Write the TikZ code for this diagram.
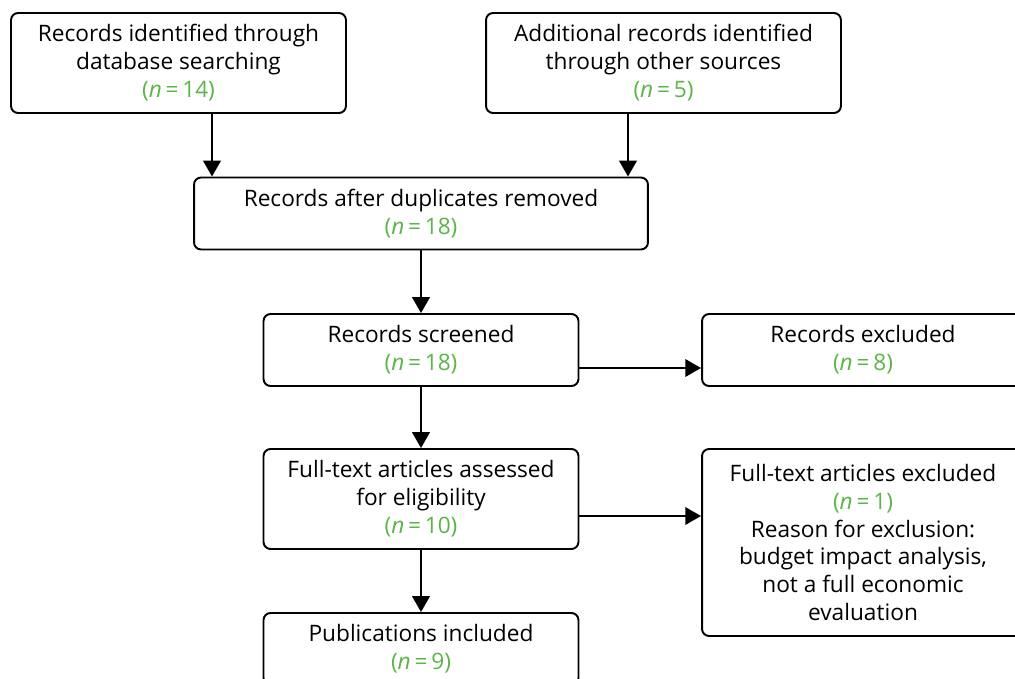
\documentclass[tikz,border=0pt]{standalone}
\usepackage{fontspec}
\setmainfont{Open Sans}
\usepackage{tikz}
\usetikzlibrary{positioning,arrows.meta,calc}
\definecolor{numVerde}{HTML}{5BB548}
\newcommand{\cuenta}[1]{{\color{numVerde}(\textit{n}\,=\,#1)}}

\begin{document}
\begin{tikzpicture}[x=0.02cm, y=-0.02cm,
        caja/.style={rectangle, rounded corners=4pt, draw=black, line width=1.1pt, align=center,
            minimum height=2cm, font=\fontsize{12.9}{15.9}\selectfont},
        cajaBaja/.style={caja, minimum height=1.44cm},
        flecha/.style={-{Triangle[length=9pt, width=10pt]}, line width=1.1pt}
    ]
        \useasboundingbox (0,0) rectangle (1015,679);
        \clip (0,0) rectangle (1015,679);

        \node[caja, minimum width=6.7cm] (busqueda) at (178.5, 63)
            {Records identified through\\database searching\\\cuenta{14}};
        \node[caja, minimum width=7.1cm] (otras) at (663.5, 63)
            {Additional records identified\\through other sources\\\cuenta{5}};
        \node[cajaBaja, minimum width=9.08cm] (duplicados) at (421, 213.5)
            {Records after duplicates removed\\\cuenta{18}};
        \node[cajaBaja, minimum width=6.3cm] (cribados) at (421, 350)
            {Records screened\\\cuenta{18}};
        \node[cajaBaja, minimum width=6.44cm] (excluidos) at (863, 350)
            {Records excluded\\\cuenta{8}};
        \node[caja, minimum width=6.3cm] (completos) at (421, 499)
            {Full-text articles assessed\\for eligibility\\\cuenta{10}};
        \node[caja, minimum width=6.44cm, minimum height=3.74cm] (razon) at (863, 542.5)
            {Full-text articles excluded\\\cuenta{1}\\Reason for exclusion:\\budget impact analysis,\\not a full economic\\evaluation};
        \node[cajaBaja, minimum width=6.3cm] (incluidos) at (421, 649)
            {Publications included\\\cuenta{9}};

        \draw[flecha] (busqueda.south -| 212,0) -- (duplicados.north -| 212,0);
        \draw[flecha] (otras.south -| 628,0) -- (duplicados.north -| 628,0);
        \draw[flecha] (duplicados) -- (cribados);
        \draw[flecha] (cribados.east |- 0,368) -- (excluidos.west |- 0,368);
        \draw[flecha] (cribados) -- (completos);
        \draw[flecha] (completos.east |- 0,516) -- (razon.west |- 0,516);
        \draw[flecha] (completos) -- (incluidos);
    \end{tikzpicture}
\end{document}
